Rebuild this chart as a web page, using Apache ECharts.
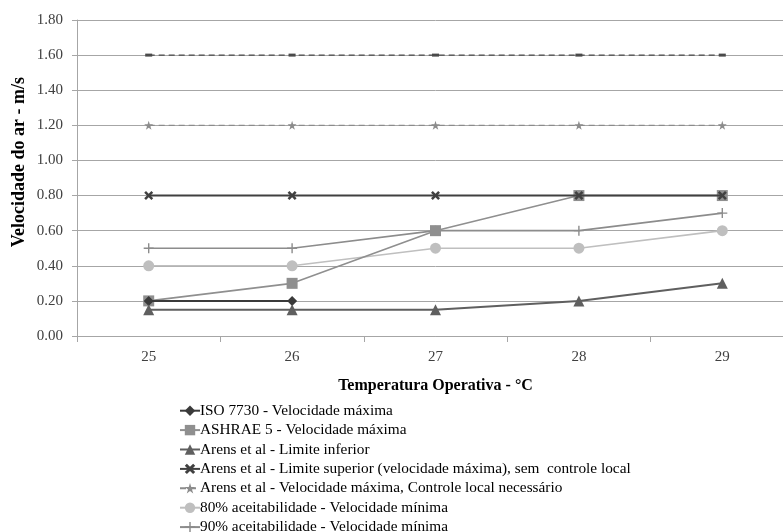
<!DOCTYPE html>
<html><head><meta charset="utf-8">
<script src="https://cdn.jsdelivr.net/npm/echarts@6/dist/echarts.min.js"></script>
<style>html,body{margin:0;padding:0;background:#fff;overflow:hidden;width:783px;height:532px}#c{width:800px;height:532px}</style>
</head><body><div id="c"></div>
<script>
const categories = ['25','26','27','28','29'];
const yTicks = [0,0.2,0.4,0.6,0.8,1.0,1.2,1.4,1.6,1.8];
const iso7730 = [0.2, 0.2, null, null, null];
const ashrae5 = [0.2, 0.3, 0.6, 0.8, 0.8];
const arensInferior = [0.15, 0.15, 0.15, 0.2, 0.3];
const arensSuperior = [0.8, 0.8, 0.8, 0.8, 0.8];
const arensControle = [1.2, 1.2, 1.2, 1.2, 1.2];
const aceit80 = [0.4, 0.4, 0.5, 0.5, 0.6];
const aceit90 = [0.5, 0.5, 0.6, 0.6, 0.7];
const extraLine = [1.6, 1.6, 1.6, 1.6, 1.6];
const seriesNames = [
  'ISO 7730 - Velocidade máxima',
  'ASHRAE 5 - Velocidade máxima',
  'Arens et al - Limite inferior',
  'Arens et al - Limite superior (velocidade máxima), sem  controle local',
  'Arens et al - Velocidade máxima, Controle local necessário',
  '80% aceitabilidade - Velocidade mínima',
  '90% aceitabilidade - Velocidade mínima'
];
const xTitle = 'Temperatura Operativa - °C';
const yTitle = 'Velocidade do ar - m/s';

const FONT = '"Liberation Serif", "Times New Roman", serif';
const X_PATH = 'path://M0,2L2,0L5,3L8,0L10,2L7,5L10,8L8,10L5,7L2,10L0,8L3,5Z';
const PLUS_PATH = 'path://M4.3,0H5.7V4.3H10V5.7H5.7V10H4.3V5.7H0V4.3H4.3Z';
const STAR_PATH = 'path://M5,0L6.2,3.6L10,3.6L6.9,5.9L8.1,9.5L5,7.3L1.9,9.5L3.1,5.9L0,3.6L3.8,3.6Z';

function mk(name, data, color, symbol, size, width, dashed, z) {
  return {
    name, type: 'line', data, symbol, symbolSize: size, showSymbol: true,
    connectNulls: false, z: z,
    lineStyle: { color, width, type: dashed ? [6, 4] : 'solid' },
    itemStyle: { color, borderWidth: 0 },
    animation: false
  };
}

const chart = echarts.init(document.getElementById('c'), null, {renderer: 'canvas'});
chart.setOption({
  animation: false,
  backgroundColor: '#fff',
  grid: { left: 77, width: 717, top: 20, height: 316, containLabel: false },
  xAxis: {
    type: 'category', data: categories, boundaryGap: true,
    name: xTitle, nameLocation: 'middle', nameGap: 42,
    nameTextStyle: { fontFamily: FONT, fontWeight: 'bold', fontSize: 16, color: '#000' },
    axisLine: { lineStyle: { color: '#a6a6a6', width: 1 } },
    axisTick: { show: true, alignWithLabel: false, length: 6, lineStyle: { color: '#a6a6a6' } },
    axisLabel: { fontFamily: FONT, fontSize: 15, color: '#404040', margin: 14 },
    splitLine: { show: false }
  },
  yAxis: {
    type: 'value', min: 0, max: 1.8, interval: 0.2,
    axisLine: { show: true, lineStyle: { color: '#a6a6a6', width: 1 } },
    axisTick: { show: true, length: 5, inside: false, lineStyle: { color: '#a6a6a6' } },
    axisLabel: { fontFamily: FONT, fontSize: 15, color: '#404040', margin: 14,
      formatter: v => v.toFixed(2) },
    splitLine: { show: true, lineStyle: { color: '#a6a6a6', width: 1 } }
  },
  graphic: [{
    type: 'text', left: 10, top: 162 - 85, rotation: Math.PI / 2,
    style: { text: yTitle, font: 'bold 18px ' + FONT, fill: '#000' },
    originX: 0, originY: 0
  }],
  legend: {
    orient: 'vertical', left: 174, top: 398, height: 300, itemGap: 4, itemWidth: 20, itemHeight: 13,
    textStyle: { fontFamily: FONT, fontSize: 15.3, lineHeight: 15.4, color: '#000', padding: [0,0,0,-5] },
    data: seriesNames
  },
  series: [
    mk('extra', extraLine, '#4a4a4a', 'rect', [7, 3], 1.3, true, 2),
    mk(seriesNames[4], arensControle, '#8c8c8c', STAR_PATH, 9, 1.3, true, 3),
    mk(seriesNames[6], aceit90, '#8c8c8c', PLUS_PATH, 10, 1.6, false, 5),
    mk(seriesNames[5], aceit80, '#bfbfbf', 'circle', 11, 1.6, false, 6),
    mk(seriesNames[1], ashrae5, '#8f8f8f', 'rect', 11, 1.6, false, 7),
    mk(seriesNames[3], arensSuperior, '#404040', X_PATH, 9, 2, false, 8),
    mk(seriesNames[0], iso7730, '#3a3a3a', 'diamond', 10, 2, false, 9),
    mk(seriesNames[2], arensInferior, '#5f5f5f', 'triangle', 11, 2, false, 10)
  ]
});
</script></body></html>
